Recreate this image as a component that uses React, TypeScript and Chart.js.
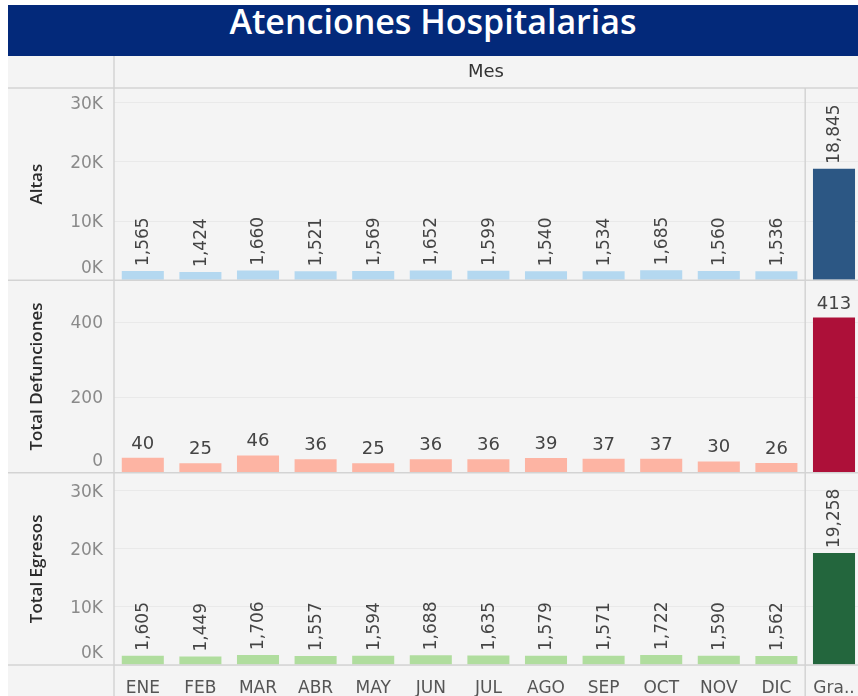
import React, { useEffect, useRef } from "react";
import { Chart, registerables } from "chart.js";

Chart.register(...registerables);

const title = "Atenciones Hospitalarias";
const columnHeader = "Mes";
const months = ["ENE", "FEB", "MAR", "ABR", "MAY", "JUN", "JUL", "AGO", "SEP", "OCT", "NOV", "DIC"];
const totalLabel = "Gra..";

const altas = [1565, 1424, 1660, 1521, 1569, 1652, 1599, 1540, 1534, 1685, 1560, 1536];
const altasTotal = 18845;
const defunciones = [40, 25, 46, 36, 25, 36, 36, 39, 37, 37, 30, 26];
const defuncionesTotal = 413;
const egresos = [1605, 1449, 1706, 1557, 1594, 1688, 1635, 1579, 1571, 1722, 1590, 1562];
const egresosTotal = 19258;

const panelTitles = ["Altas", "Total Defunciones", "Total Egresos"];
const kTicks = [0, 10000, 20000, 30000];
const kTickLabels = ["0K", "10K", "20K", "30K"];
const defTicks = [0, 200, 400];
const defTickLabels = ["0", "200", "400"];

const LABEL_FONT = '"DejaVu Sans", "Open Sans", sans-serif';
const TITLE_FONT = '"Open Sans", "DejaVu Sans", sans-serif';

const xLabels = [...months, totalLabel];

export default function App() {
  const ref = useRef<HTMLCanvasElement | null>(null);

  useEffect(() => {
    const canvas = ref.current;
    if (!canvas) return;

    const toPoints = (vals: number[]) => vals.map((v, i) => ({ x: i, y: v }));
    const colorsFor = (light: string, dark: string) => xLabels.map((_, i) => (i < months.length ? light : dark));

    const AXIS_W = 106;
    const HEADER_H = 32;
    const LINE = "#d3d3d3";

    const decorPlugin = {
      id: "decor",
      beforeDraw(chart: any) {
        const { ctx, width, height } = chart;
        ctx.save();
        ctx.fillStyle = "#f4f4f4";
        ctx.fillRect(0, 0, width, height);
        ctx.restore();
      },
      afterDraw(chart: any) {
        const { ctx, width, height, scales } = chart;
        const xs = scales.x;
        const panels = [
          { s: scales.yA, ticks: kTicks, labels: kTickLabels, t: panelTitles[0] },
          { s: scales.yD, ticks: defTicks, labels: defTickLabels, t: panelTitles[1] },
          { s: scales.yE, ticks: kTicks, labels: kTickLabels, t: panelTitles[2] },
        ];
        ctx.save();
        // borders
        ctx.strokeStyle = LINE;
        ctx.lineWidth = 1.5;
        ctx.beginPath();
        ctx.moveTo(0, HEADER_H);
        ctx.lineTo(width, HEADER_H);
        panels.forEach((p) => {
          ctx.moveTo(0, p.s.bottom);
          ctx.lineTo(width, p.s.bottom);
        });
        ctx.moveTo(AXIS_W, 0);
        ctx.lineTo(AXIS_W, height);
        const divX = xs.getPixelForValue(months.length - 0.5);
        ctx.moveTo(divX, HEADER_H);
        ctx.lineTo(divX, height);
        ctx.stroke();

        // header text
        ctx.fillStyle = "#333";
        ctx.font = `18px ${LABEL_FONT}`;
        ctx.textAlign = "center";
        ctx.textBaseline = "middle";
        ctx.fillText(columnHeader, (AXIS_W + width) / 2, HEADER_H / 2);

        // y tick labels and titles
        panels.forEach((p) => {
          ctx.font = `17px ${LABEL_FONT}`;
          ctx.fillStyle = "#8a8a8a";
          ctx.textAlign = "right";
          ctx.textBaseline = "middle";
          p.ticks.forEach((v, i) => {
            let y = p.s.getPixelForValue(v) + 1.5;
            if (v === 0) y -= 13;
            ctx.fillText(p.labels[i], AXIS_W - 11, y);
          });
          ctx.save();
          ctx.translate(29, (p.s.top + p.s.bottom) / 2);
          ctx.rotate(-Math.PI / 2);
          ctx.font = `600 17px ${TITLE_FONT}`;
          ctx.fillStyle = "#2b2b2b";
          ctx.textAlign = "center";
          ctx.textBaseline = "middle";
          ctx.fillText(p.t, 0, 0);
          ctx.restore();
        });

        // data labels
        chart.data.datasets.forEach((ds: any, di: number) => {
          const meta = chart.getDatasetMeta(di);
          meta.data.forEach((el: any, i: number) => {
            const v = ds.data[i].y as number;
            const txt = v.toLocaleString("en-US");
            ctx.fillStyle = "#444";
            if (ds.rotatedLabels) {
              ctx.save();
              ctx.translate(el.x + 1, el.y - 5);
              ctx.rotate(-Math.PI / 2);
              ctx.font = `17px ${LABEL_FONT}`;
              ctx.textAlign = "left";
              ctx.textBaseline = "middle";
              ctx.fillText(txt, 0, 0);
              ctx.restore();
            } else {
              ctx.font = `18px ${LABEL_FONT}`;
              ctx.textAlign = "center";
              ctx.textBaseline = "alphabetic";
              ctx.fillText(txt, el.x, el.y - 9);
            }
          });
        });
        ctx.restore();
      },
    };

    const yCommon = (max: number, ticks: number[]) => ({
      type: "linear" as const,
      position: "left" as const,
      stack: "panels",
      stackWeight: 1,
      offset: false,
      min: 0,
      max,
      afterBuildTicks: (s: any) => {
        s.ticks = ticks.map((v) => ({ value: v }));
      },
      afterFit: (s: any) => {
        s.width = AXIS_W;
        s.paddingTop = 0;
        s.paddingBottom = 0;
      },
      ticks: { display: false },
      grid: { color: "#e9e9e9", drawTicks: false, lineWidth: 1 },
      border: { display: false },
    });

    const plotWidth = canvas.width - AXIS_W;

    const chart = new Chart(canvas, {
      type: "bar",
      data: {
        datasets: [
          {
            label: panelTitles[0],
            data: toPoints([...altas, altasTotal]),
            yAxisID: "yA",
            backgroundColor: colorsFor("#b4d8f0", "#2c5784"),
            rotatedLabels: true,
          } as any,
          {
            label: panelTitles[1],
            data: toPoints([...defunciones, defuncionesTotal]),
            yAxisID: "yD",
            backgroundColor: colorsFor("#fdb4a3", "#ad1039"),
            rotatedLabels: false,
          } as any,
          {
            label: panelTitles[2],
            data: toPoints([...egresos, egresosTotal]),
            yAxisID: "yE",
            backgroundColor: colorsFor("#b0dd9e", "#23663d"),
            rotatedLabels: true,
          } as any,
        ],
      },
      options: {
        animation: false,
        responsive: false,
        maintainAspectRatio: false,
        layout: { padding: { top: HEADER_H, left: 0, right: 0, bottom: 0 } },
        plugins: { legend: { display: false }, tooltip: { enabled: false }, title: { display: false } },
        datasets: { bar: { grouped: false, barPercentage: 0.73, categoryPercentage: 1 } as any },
        scales: {
          x: {
            type: "linear",
            position: "bottom",
            offset: false,
            min: -0.5,
            max: -0.5 + plotWidth / 57.6,
            afterBuildTicks: (s: any) => {
              s.ticks = xLabels.map((_, i) => ({ value: i }));
            },
            afterFit: (s: any) => {
              s.height = 31;
              s.paddingLeft = 0;
              s.paddingRight = 0;
            },
            ticks: {
              autoSkip: false,
              maxRotation: 0,
              padding: 13,
              color: "#555",
              font: { family: LABEL_FONT, size: 17 },
              callback: (v: any) => xLabels[v as number] ?? "",
            },
            grid: { display: false, drawTicks: false },
            border: { display: false },
          },
          yE: yCommon(33100, kTicks),
          yD: yCommon(512, defTicks),
          yA: yCommon(32500, kTicks),
        } as any,
      },
      plugins: [decorPlugin],
    });
    return () => chart.destroy();
  }, []);

  return (
    <div style={{ position: "absolute", left: 8, top: 5, width: 850, height: 691, background: "#f4f4f4" }}>
      <div style={{ position: "relative", height: 51, background: "#03297a", overflow: "hidden" }}>
        <div
          style={{
            position: "absolute",
            left: 0,
            right: 0,
            top: -1,
            textAlign: "center",
            color: "#ffffff",
            fontFamily: TITLE_FONT,
            fontWeight: 600,
            fontSize: 34,
            lineHeight: "34px",
            whiteSpace: "nowrap",
          }}
        >
          {title}
        </div>
      </div>
      <canvas ref={ref} width={850} height={640} style={{ display: "block", width: 850, height: 640 }} />
    </div>
  );
}
